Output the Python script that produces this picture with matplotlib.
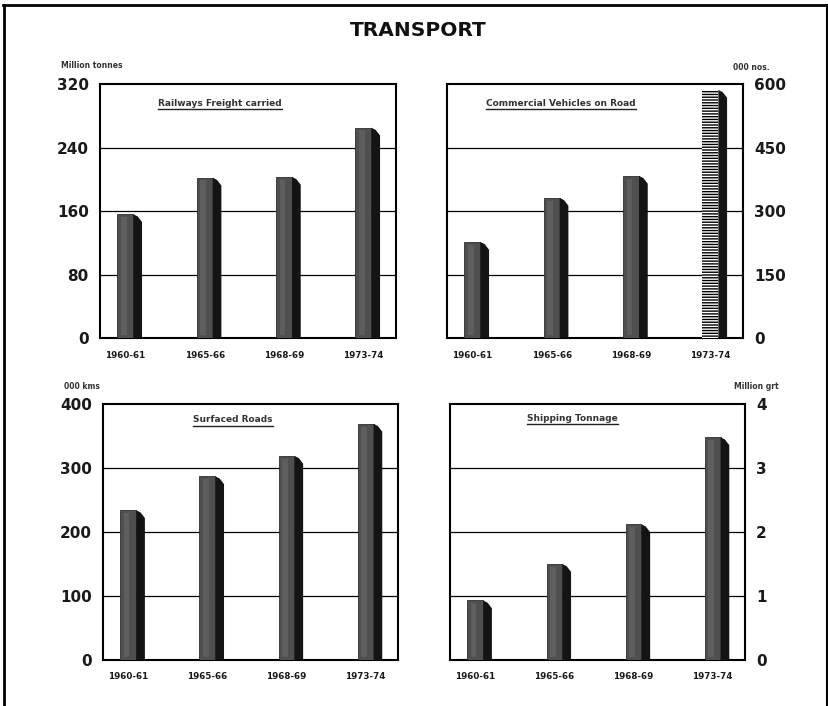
import matplotlib.pyplot as plt
from matplotlib.patches import Polygon
from matplotlib.lines import Line2D

periods = ["1960-61", "1965-66", "1968-69", "1973-74"]

rail_freight = [156, 202, 203, 265]        # million tonnes
commercial_vehicles = [227, 331, 383, 586]  # '000 nos.
surfaced_roads = [234, 287, 319, 369]       # '000 kms
shipping_tonnage = [0.93, 1.50, 2.12, 3.48]  # million grt

rail_ticks = [0, 80, 160, 240, 320]
vehicle_ticks = [0, 150, 300, 450, 600]
road_ticks = [0, 100, 200, 300, 400]
ship_ticks = [0, 1, 2, 3, 4]

fig = plt.figure(figsize=(8.29, 7.06), dpi=100)
fig.patch.set_facecolor("white")

FRONT = 0.20   # width of the bar face (category units)
SIDE = 0.11    # depth of the shaded side


def panel(rect, values, ticks, title, title_xy, unit, unit_xy, right=False, striped_last=False):
    ax = fig.add_axes(rect)
    ymax = ticks[-1]
    ax.set_xlim(-0.32, 3.41)
    ax.set_ylim(0, ymax)
    for t in ticks[1:-1]:
        ax.axhline(t, color="black", lw=0.9, zorder=1)
    drop = ymax * 0.022
    for i, v in enumerate(values):
        last = striped_last and i == len(values) - 1
        if last:
            ax.bar(i, v, width=FRONT, color="black", edgecolor="white",
                   hatch="------", linewidth=0, zorder=3)
        else:
            ax.bar(i, v, width=FRONT, color="#4f4f4f", edgecolor="#2e2e2e",
                   linewidth=0.6, zorder=3)
            ax.bar(i - 0.02, v - drop, width=0.07, bottom=drop * 0.5,
                   color="#5e5e5e", linewidth=0, zorder=3)
        x0 = i + FRONT / 2
        side = Polygon([(x0, 0), (x0, v), (x0 + SIDE * 0.5, v - drop * 0.4),
                        (x0 + SIDE, v - drop * 1.4), (x0 + SIDE, 0)],
                       closed=True, facecolor="#141414", edgecolor="none", zorder=3)
        ax.add_patch(side)
    ax.set_yticks(ticks)
    ax.set_yticklabels([str(t) for t in ticks], fontsize=11, fontweight="bold", color="#1a1a1a")
    ax.tick_params(axis="y", length=0, pad=8)
    if right:
        ax.yaxis.tick_right()
    ax.set_xticks(range(len(periods)))
    ax.set_xticklabels(periods, fontsize=6.3, fontweight="bold", color="#1a1a1a")
    ax.tick_params(axis="x", length=0, pad=9)
    for s in ax.spines.values():
        s.set_linewidth(1.5)
        s.set_color("black")
    txt = ax.text(title_xy[0], title_xy[1], title, transform=ax.transAxes,
                  ha="center", va="center", fontsize=6.5, fontweight="bold", color="#333333")
    fig.text(unit_xy[0], unit_xy[1], unit, fontsize=5.5, fontweight="bold",
             color="#333333", ha="left", va="center")
    return ax, txt


titles = []
titles.append(panel([0.1206, 0.5212, 0.357, 0.3598], rail_freight, rail_ticks,
                    "Railways Freight carried", (0.405, 0.925),
                    "Million tonnes", (0.073, 0.907)))
titles.append(panel([0.5392, 0.5212, 0.357, 0.3598], commercial_vehicles, vehicle_ticks,
                    "Commercial Vehicles on Road", (0.385, 0.925),
                    "000 nos.", (0.884, 0.905), right=True, striped_last=True))
titles.append(panel([0.1242, 0.0652, 0.356, 0.3626], surfaced_roads, road_ticks,
                    "Surfaced Roads", (0.44, 0.9375),
                    "000 kms", (0.077, 0.452)))
titles.append(panel([0.5428, 0.0652, 0.356, 0.3626], shipping_tonnage, ship_ticks,
                    "Shipping Tonnage", (0.415, 0.945),
                    "Million grt", (0.886, 0.453), right=True))

# underline the panel captions
fig.canvas.draw()
renderer = fig.canvas.get_renderer()
inv = fig.transFigure.inverted()
for ax, txt in titles:
    bb = txt.get_window_extent(renderer=renderer)
    (x0, y0), (x1, y1) = inv.transform([(bb.x0, bb.y0), (bb.x1, bb.y1)])
    fig.add_artist(Line2D([x0, x1], [y0 - 0.002, y0 - 0.002], transform=fig.transFigure,
                          color="#222222", lw=1.0))

fig.text(0.504, 0.957, "TRANSPORT", ha="center", va="center",
         fontsize=14.5, fontweight="bold", color="#111111")

# outer frame
fig.add_artist(Line2D([0.005, 0.005], [0.0, 0.993], transform=fig.transFigure, color="black", lw=2))
fig.add_artist(Line2D([0.004, 1.0], [0.993, 0.993], transform=fig.transFigure, color="black", lw=2))
fig.add_artist(Line2D([0.998, 0.998], [0.0, 0.993], transform=fig.transFigure, color="black", lw=1.5))

fig.savefig("out.png", dpi=100, facecolor="white")
